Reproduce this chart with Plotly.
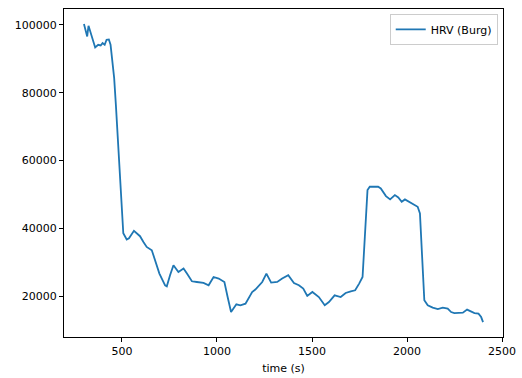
import plotly.graph_objects as go

time_s = [300, 317, 324, 336, 359, 375, 388, 398, 409, 419, 431, 440, 451, 459, 468,
          489, 507, 525, 537, 563, 581, 595, 613, 630, 657, 674, 697, 727, 736, 753,
          771, 797, 824, 842, 868, 894, 929, 956, 982, 1009, 1026, 1039, 1056, 1074,
          1102, 1123, 1150, 1185, 1202, 1238, 1260, 1285, 1317, 1343, 1375, 1405,
          1431, 1454, 1475, 1502, 1536, 1567, 1589, 1619, 1651, 1677, 1704, 1727,
          1748, 1766, 1778, 1792, 1804, 1848, 1862, 1889, 1911, 1936, 1954, 1972,
          1989, 2012, 2038, 2056, 2068, 2077, 2091, 2109, 2135, 2162, 2188, 2214,
          2232, 2249, 2276, 2294, 2316, 2337, 2355, 2376, 2390, 2400]

hrv_burg = [100300, 96600, 99760, 97600, 93350, 94140, 93940, 94650, 94140, 95620,
            95710, 94140, 89210, 84300, 76420, 55240, 38610, 36750, 37130, 39290,
            38520, 37720, 36040, 34560, 33590, 30630, 26700, 23250, 22950, 26200,
            29160, 27180, 28180, 26700, 24430, 24220, 23930, 23250, 25700, 25230,
            24720, 24220, 19790, 15360, 17640, 17340, 17840, 21270, 21980, 24220,
            26700, 24050, 24220, 25230, 26200, 23930, 23250, 22270, 20090, 21270,
            19790, 17340, 18310, 20290, 19790, 20970, 21480, 21770, 23750, 25700,
            37520, 51310, 52290, 52290, 51810, 49540, 48560, 49830, 49150, 47850,
            48560, 47850, 47180, 46380, 44430, 33590, 18820, 17340, 16660, 16250,
            16660, 16370, 15360, 15070, 15270, 15180, 16070, 15570, 15070, 14890,
            13880, 12400]

x_ticks = [500, 1000, 1500, 2000, 2500]
y_ticks = [20000, 40000, 60000, 80000, 100000]

xmin, xmax = min(time_s), max(time_s)
ymin, ymax = min(hrv_burg), max(hrv_burg)
xpad = (xmax - xmin) * 0.05
ypad = (ymax - ymin) * 0.05

fig = go.Figure()
fig.add_trace(go.Scatter(x=time_s, y=hrv_burg, mode="lines", name="HRV (Burg)",
                         line=dict(color="#1f77b4", width=1.8)))

axis_common = dict(showgrid=False, zeroline=False, showline=True, linecolor="black",
                   linewidth=1, mirror=True, ticks="outside", ticklen=4, tickwidth=1,
                   tickcolor="black", automargin=False,
                   tickfont=dict(family="DejaVu Sans", size=11, color="black"))

fig.update_xaxes(range=[xmin - xpad, xmax + xpad], tickvals=x_ticks,
                 ticktext=[str(v) for v in x_ticks],
                 title=dict(text="time (s)", font=dict(family="DejaVu Sans", size=11, color="black"),
                            standoff=7),
                 **axis_common)
fig.update_yaxes(range=[ymin - ypad, ymax + ypad], tickvals=y_ticks,
                 ticktext=[str(v) for v in y_ticks], **axis_common)

fig.update_layout(width=522, height=378, margin=dict(l=64, r=19, t=9, b=41),
                  paper_bgcolor="white", plot_bgcolor="white",
                  font=dict(family="DejaVu Sans", size=11, color="black"),
                  showlegend=True,
                  legend=dict(x=0.988, y=0.985, xanchor="right", yanchor="top",
                              bgcolor="rgba(255,255,255,0.8)", bordercolor="#cccccc",
                              borderwidth=1, font=dict(family="DejaVu Sans", size=11, color="black"),
                              itemwidth=30))

fig.write_html("out.html")
